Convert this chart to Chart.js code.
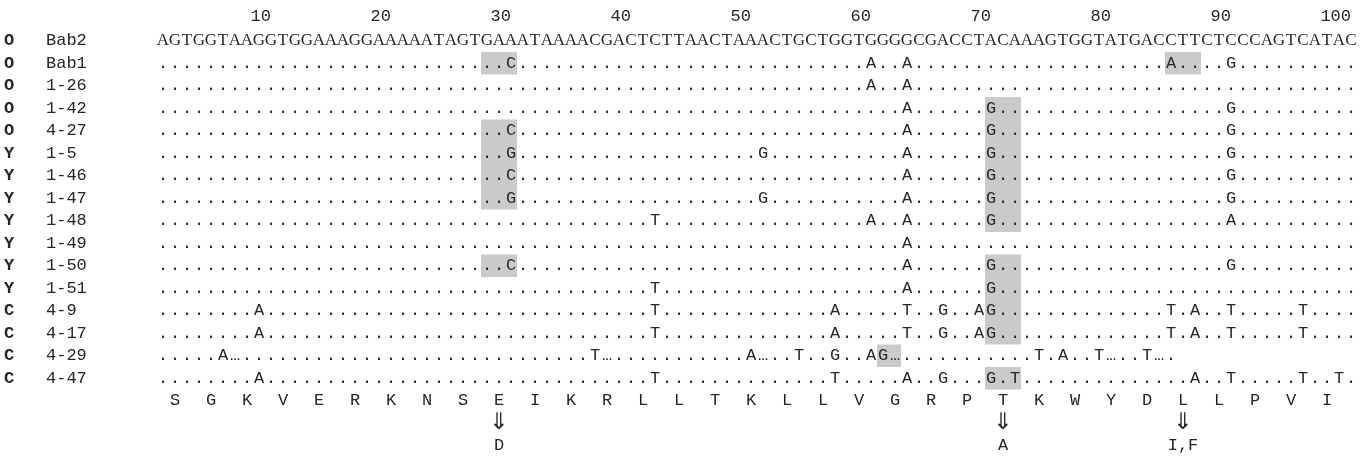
<!DOCTYPE html>
<html>
<head>
<meta charset="utf-8">
<script src="https://cdn.jsdelivr.net/npm/chart.js@4/dist/chart.umd.min.js"></script>
<style>
  html, body { margin: 0; padding: 0; background: #fff; }
  #wrap { width: 1367px; height: 457px; position: relative; }
</style>
</head>
<body>
<div id="wrap"><canvas id="chart"></canvas></div>
<script>
const rowGroups = ['O', 'O', 'O', 'O', 'O', 'Y', 'Y', 'Y', 'Y', 'Y', 'Y', 'Y', 'C', 'C', 'C', 'C']
const rowNames = ['Bab2', 'Bab1', '1-26', '1-42', '4-27', '1-5', '1-46', '1-47', '1-48', '1-49', '1-50', '1-51', '4-9', '4-17', '4-29', '4-47']
const positionTicks = [10, 20, 30, 40, 50, 60, 70, 80, 90, 100]

const referenceSeq = 'AGTGGTAAGGTGGAAAGGAAAAATAGTGAAATAAAACGACTCTTAACTAAACTGCTGGTGGGGCGACCTACAAAGTGGTATGACCTTCTCCCAGTCATAC'

// differences from Bab2, one object per row below it (position -> base)
const rowChanges = [
  { 30: 'C', 60: 'A', 63: 'A', 85: 'A', 90: 'G' },
  { 60: 'A', 63: 'A' },
  { 63: 'A', 70: 'G', 90: 'G' },
  { 30: 'C', 63: 'A', 70: 'G', 90: 'G' },
  { 30: 'G', 51: 'G', 63: 'A', 70: 'G', 90: 'G' },
  { 30: 'C', 63: 'A', 70: 'G', 90: 'G' },
  { 30: 'G', 51: 'G', 63: 'A', 70: 'G', 90: 'G' },
  { 42: 'T', 60: 'A', 63: 'A', 70: 'G', 90: 'A' },
  { 63: 'A' },
  { 30: 'C', 63: 'A', 70: 'G', 90: 'G' },
  { 42: 'T', 63: 'A', 70: 'G' },
  { 9: 'A', 42: 'T', 57: 'A', 63: 'T', 66: 'G', 69: 'A', 70: 'G', 85: 'T', 87: 'A', 90: 'T', 96: 'T' },
  { 9: 'A', 42: 'T', 57: 'A', 63: 'T', 66: 'G', 69: 'A', 70: 'G', 85: 'T', 87: 'A', 90: 'T', 96: 'T' },
  { 6: 'A', 7: '…', 37: 'T', 38: '…', 50: 'A', 51: '…', 54: 'T', 57: 'G', 60: 'A', 61: 'G', 62: '…', 74: 'T', 76: 'A', 79: 'T', 80: '…', 83: 'T', 84: '…' },
  { 9: 'A', 42: 'T', 57: 'T', 63: 'A', 66: 'G', 70: 'G', 72: 'T', 87: 'A', 90: 'T', 96: 'T', 99: 'T' },
]
const rowLengths = [100, 100, 100, 100, 100, 100, 100, 100, 100, 100, 100, 100, 100, 85, 100]

// shaded codons: first row, last row, first base, last base
const shadedCodons = [
  [1, 1, 28, 30],
  [1, 1, 85, 87],
  [4, 7, 28, 30],
  [3, 8, 70, 72],
  [10, 10, 28, 30],
  [10, 13, 70, 72],
  [14, 14, 61, 62],
  [15, 15, 70, 72],
]

const aminoAcids = ['S', 'G', 'K', 'V', 'E', 'R', 'K', 'N', 'S', 'E', 'I', 'K', 'R', 'L', 'L', 'T', 'K', 'L', 'L', 'V', 'G', 'R', 'P', 'T', 'K', 'W', 'Y', 'D', 'L', 'L', 'P', 'V', 'I']
const changedCodons = [10, 24, 29]
const codonSubstitutions = ['D', 'A', 'I,F']

const MONO = '"Liberation Mono", "DejaVu Sans Mono", monospace'
const SERIF = '"Liberation Serif", "DejaVu Serif", serif'
const INK = '#262626'

const AA_ROW = rowNames.length
const ARROW_ROW = AA_ROW + 1
const SUB_ROW = AA_ROW + 2

const refPoints = referenceSeq.split('').map((t, i) => ({ x: i + 1, y: 0, t }))

const alignPoints = []
rowChanges.forEach((changes, r) => {
  for (let p = 1; p <= rowLengths[r]; p++) {
    alignPoints.push({ x: p, y: r + 1, t: changes[p] || '.' })
  }
})

const aaPoints = aminoAcids.map((t, k) => ({ x: k * 3 + 2, y: AA_ROW, t }))
const arrowPoints = changedCodons.map((c) => ({ x: (c - 1) * 3 + 2, y: ARROW_ROW, t: '⇓' }))
const subPoints = changedCodons.map((c, i) => ({ x: (c - 1) * 3 + 2, y: SUB_ROW, t: codonSubstitutions[i] }))

const textDataset = (label, data, font) => ({
  label,
  data,
  textFont: font,
  pointRadius: 0,
  pointHoverRadius: 0,
  showLine: false,
})

const shadePlugin = {
  id: 'shade',
  beforeDatasetsDraw(chart) {
    const { ctx, scales: { x, y } } = chart
    ctx.save()
    ctx.fillStyle = '#cacaca'
    shadedCodons.forEach(([r0, r1, p0, p1]) => {
      const left = x.getPixelForValue(p0 - 0.5)
      const right = x.getPixelForValue(p1 + 0.5)
      const top = y.getPixelForValue(r0 - 0.5)
      const bottom = y.getPixelForValue(r1 + 0.5)
      ctx.fillRect(left, top, right - left, bottom - top)
    })
    ctx.restore()
  },
}

const letterPlugin = {
  id: 'letters',
  afterDatasetsDraw(chart) {
    const { ctx } = chart
    ctx.save()
    ctx.fillStyle = INK
    ctx.textAlign = 'center'
    ctx.textBaseline = 'middle'
    chart.data.datasets.forEach((ds, i) => {
      const meta = chart.getDatasetMeta(i)
      ctx.font = ds.textFont
      meta.data.forEach((pt, j) => {
        ctx.fillText(ds.data[j].t, pt.x, pt.y)
      })
    })
    ctx.restore()
  },
}

const rowTicks = (axis) => {
  axis.ticks = rowNames.map((_, i) => ({ value: i }))
}

const fitRowAxis = (width) => (axis) => {
  axis.width = width
  axis.paddingTop = 0
  axis.paddingBottom = 0
}

new Chart(document.getElementById('chart'), {
  type: 'scatter',
  data: {
    datasets: [
      textDataset('Bab2', refPoints, `17px ${SERIF}`),
      textDataset('clones', alignPoints, `17px ${MONO}`),
      textDataset('amino acids', aaPoints, `17px ${MONO}`),
      textDataset('arrows', arrowPoints, '23px "DejaVu Sans", sans-serif'),
      textDataset('substitutions', subPoints, `17px ${MONO}`),
    ],
  },
  options: {
    responsive: true,
    maintainAspectRatio: false,
    animation: false,
    events: [],
    layout: { padding: { left: 4, right: 10, top: 0, bottom: 0 } },
    plugins: {
      legend: { display: false },
      tooltip: { enabled: false },
    },
    scales: {
      x: {
        type: 'linear',
        position: 'top',
        min: 0.5,
        max: 100.5,
        afterBuildTicks: (axis) => {
          axis.ticks = positionTicks.map((value) => ({ value }))
        },
        afterFit: (axis) => {
          axis.height = 27
          axis.paddingLeft = 0
          axis.paddingRight = 0
        },
        grid: { display: false, drawTicks: false },
        border: { display: false },
        ticks: {
          align: 'end',
          padding: 0,
          autoSkip: false,
          maxRotation: 0,
          color: INK,
          font: { family: MONO, size: 17 },
          callback: (value) => String(value),
        },
      },
      yg: {
        type: 'linear',
        position: 'left',
        weight: 1,
        reverse: true,
        min: -0.61,
        max: 18.5,
        afterBuildTicks: rowTicks,
        afterFit: fitRowAxis(42),
        grid: { display: false, drawTicks: false },
        border: { display: false },
        ticks: {
          crossAlign: 'far',
          autoSkip: false,
          padding: 0,
          color: INK,
          font: { family: MONO, size: 17, weight: 'bold' },
          callback: (value) => rowGroups[value],
        },
      },
      y: {
        type: 'linear',
        position: 'left',
        weight: 0,
        reverse: true,
        min: -0.61,
        max: 18.5,
        afterBuildTicks: rowTicks,
        afterFit: fitRowAxis(111),
        grid: { display: false, drawTicks: false },
        border: { display: false },
        ticks: {
          crossAlign: 'far',
          autoSkip: false,
          padding: 0,
          color: INK,
          font: { family: MONO, size: 17 },
          callback: (value) => rowNames[value],
        },
      },
    },
  },
  plugins: [shadePlugin, letterPlugin],
})
</script>
</body>
</html>
